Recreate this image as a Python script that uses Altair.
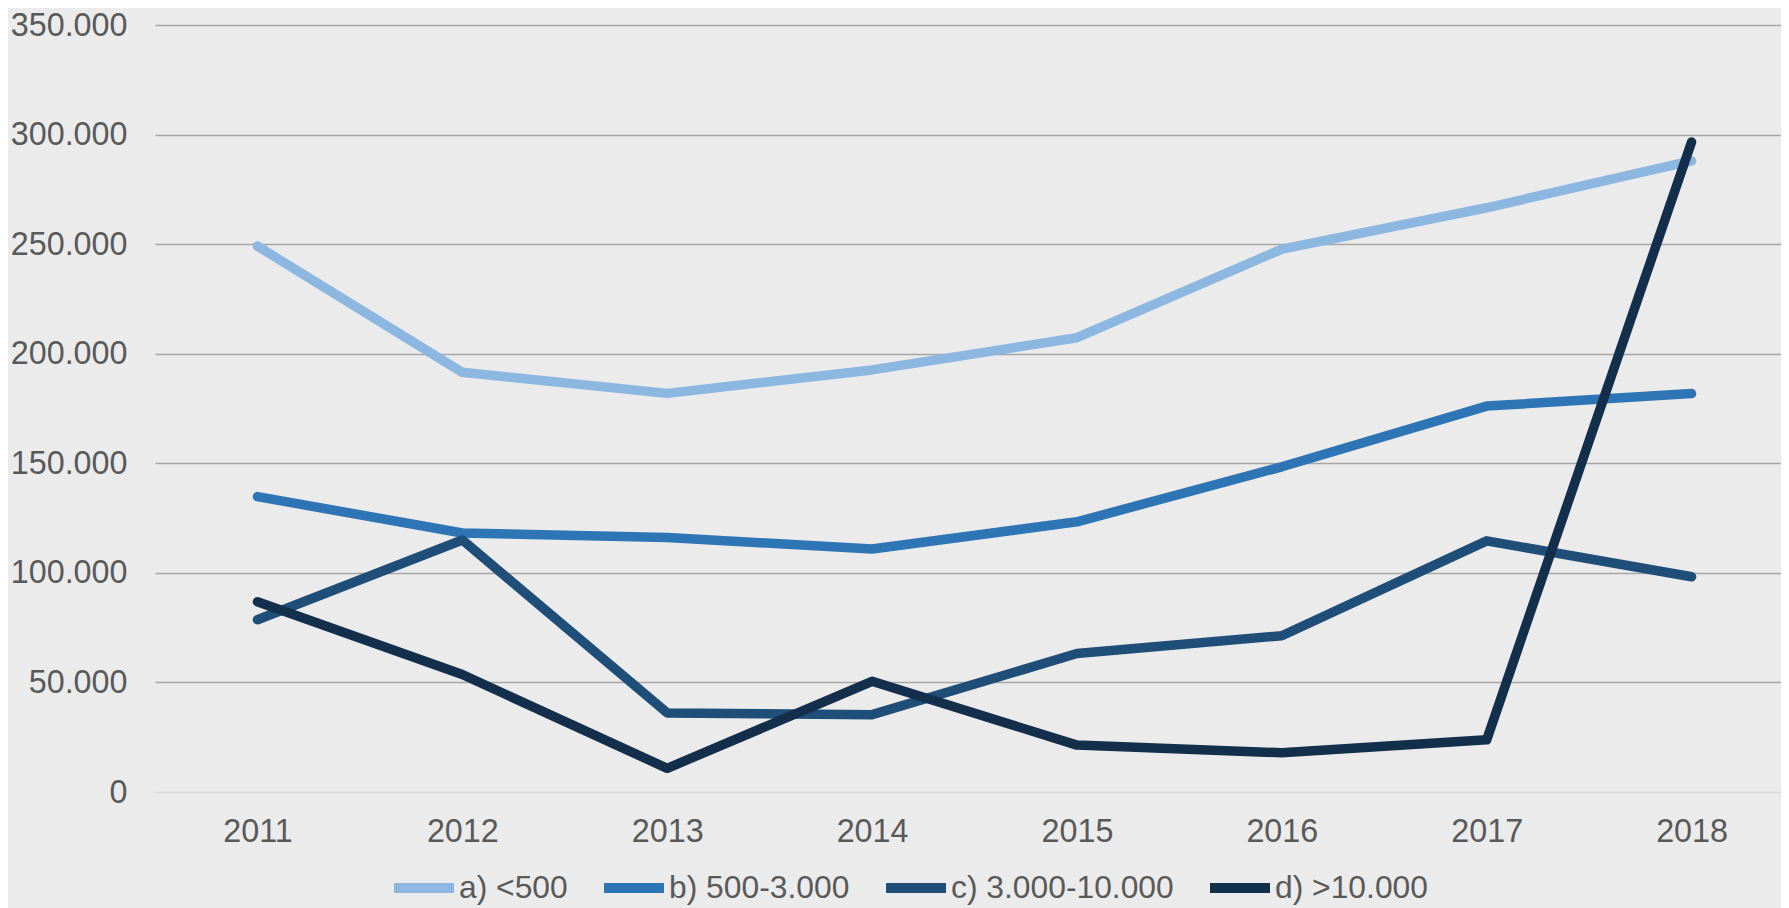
import altair as alt
import pandas as pd

years = ["2011", "2012", "2013", "2014", "2015", "2016", "2017", "2018"]
series_names = ["a) <500", "b) 500-3.000", "c) 3.000-10.000", "d) >10.000"]
s_a = [249100, 191500, 181900, 192600, 207300, 247700, 266600, 288000]
s_b = [134800, 118200, 116100, 110900, 123300, 148400, 176100, 181800]
s_c = [78600, 115000, 36100, 35300, 63200, 71300, 114600, 98200]
s_d = [86800, 53600, 10800, 50500, 21400, 17900, 23800, 296600]
colors = ["#8cb7e1", "#2e75b6", "#1f4e79", "#132f4c"]

rows = []
for name, vals in zip(series_names, [s_a, s_b, s_c, s_d]):
    for y, v in zip(years, vals):
        rows.append({"year": y, "value": v, "series": name})
df = pd.DataFrame(rows)

FONT = "Liberation Sans"
TXT = "#595959"
FS = 32.3

chart = alt.Chart(df).mark_line(strokeWidth=9.5, strokeCap="round", strokeJoin="round").encode(
    x=alt.X("year:O", sort=years,
            scale=alt.Scale(range=[0, 1639], padding=0.5),
            axis=alt.Axis(title=None, labelAngle=0, ticks=False, tickSize=0, domain=False,
                          grid=False, labelFontSize=FS, labelColor=TXT, labelFont=FONT,
                          labelPadding=23)),
    y=alt.Y("value:Q",
            scale=alt.Scale(domain=[0, 350000], nice=False),
            axis=alt.Axis(title=None, values=[0, 50000, 100000, 150000, 200000, 250000, 300000, 350000],
                          labelExpr="replace(format(datum.value, ',d'), ',', '.')",
                          ticks=False, tickSize=0, domain=False,
                          gridColor=alt.condition("datum.value === 0", alt.value("#d9d9d9"), alt.value("#a6a6a6")),
                          gridWidth=1.3,
                          labelFontSize=FS, labelColor=TXT, labelFont=FONT, labelPadding=28)),
    color=alt.Color("series:N", sort=series_names,
                    scale=alt.Scale(domain=series_names, range=colors),
                    legend=alt.Legend(title=None, orient="none", direction="horizontal",
                                      legendX=234, legendY=828,
                                      symbolType="stroke", symbolSize=3600, symbolStrokeWidth=10,
                                      labelFontSize=31.8, labelColor=TXT, labelFont=FONT,
                                      labelLimit=0, labelOffset=0, columnPadding=16, padding=0)),
).properties(
    width=1626,
    height=767,
    background="#ebebeb",
    autosize=alt.AutoSizeParams(type="none"),
    padding={"left": 147, "top": 17, "right": 0, "bottom": 116},
).configure_view(stroke=None, fill="#ebebeb")

chart.save("out.html", embed_options={"renderer": "svg", "actions": False})
